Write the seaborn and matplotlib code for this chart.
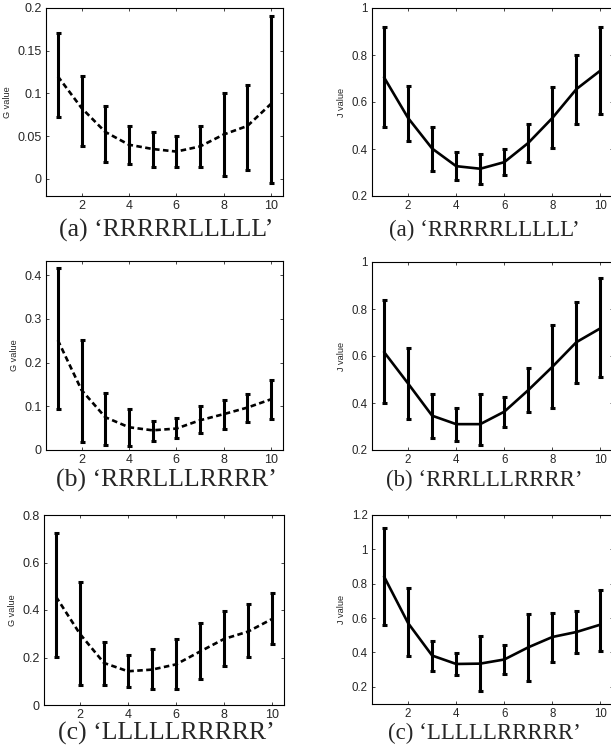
import matplotlib
matplotlib.use("Agg")
import numpy as np
import pandas as pd
import matplotlib.pyplot as plt
import seaborn as sns

# data (mean, lower end, upper end of each error bar)
steps = [1, 2, 3, 4, 5, 6, 7, 8, 9, 10]

g_a_mean = [0.120, 0.083, 0.055, 0.040, 0.035, 0.032, 0.038, 0.052, 0.062, 0.088]
g_a_low = [0.073, 0.038, 0.020, 0.017, 0.014, 0.014, 0.014, 0.003, 0.010, -0.005]
g_a_high = [0.171, 0.121, 0.085, 0.062, 0.055, 0.050, 0.062, 0.100, 0.110, 0.191]

j_a_mean = [0.705, 0.532, 0.402, 0.327, 0.316, 0.344, 0.426, 0.532, 0.655, 0.734]
j_a_low = [0.493, 0.433, 0.306, 0.266, 0.252, 0.288, 0.344, 0.405, 0.508, 0.551]
j_a_high = [0.918, 0.669, 0.493, 0.387, 0.380, 0.402, 0.508, 0.664, 0.798, 0.918]

g_b_mean = [0.251, 0.137, 0.075, 0.052, 0.045, 0.049, 0.068, 0.082, 0.097, 0.116]
g_b_low = [0.093, 0.019, 0.011, 0.010, 0.021, 0.027, 0.040, 0.047, 0.065, 0.072]
g_b_high = [0.417, 0.251, 0.131, 0.093, 0.067, 0.074, 0.101, 0.114, 0.128, 0.160]

j_b_mean = [0.617, 0.483, 0.346, 0.310, 0.310, 0.363, 0.455, 0.554, 0.659, 0.718]
j_b_low = [0.399, 0.331, 0.251, 0.239, 0.223, 0.300, 0.361, 0.377, 0.483, 0.511]
j_b_high = [0.838, 0.632, 0.438, 0.377, 0.438, 0.427, 0.551, 0.730, 0.831, 0.931]

g_c_mean = [0.456, 0.299, 0.177, 0.142, 0.149, 0.171, 0.225, 0.278, 0.309, 0.362]
g_c_low = [0.202, 0.086, 0.086, 0.077, 0.067, 0.067, 0.111, 0.164, 0.202, 0.257]
g_c_high = [0.723, 0.518, 0.264, 0.211, 0.234, 0.278, 0.345, 0.397, 0.424, 0.470]

j_c_mean = [0.842, 0.571, 0.382, 0.333, 0.335, 0.359, 0.430, 0.490, 0.519, 0.562]
j_c_low = [0.558, 0.378, 0.291, 0.266, 0.175, 0.275, 0.233, 0.343, 0.397, 0.410]
j_c_high = [1.123, 0.774, 0.465, 0.397, 0.498, 0.442, 0.626, 0.629, 0.643, 0.765]

captions = ["(a) \u2018RRRRRLLLLL\u2019", "(b) \u2018RRRLLLRRRR\u2019", "(c) \u2018LLLLLRRRRR\u2019"]

g_ticks = [[0, 0.05, 0.1, 0.15, 0.2], [0, 0.1, 0.2, 0.3, 0.4], [0, 0.2, 0.4, 0.6, 0.8]]
j_ticks = [[0.2, 0.4, 0.6, 0.8, 1], [0.2, 0.4, 0.6, 0.8, 1], [0.2, 0.4, 0.6, 0.8, 1, 1.2]]
g_lims = [(-0.02, 0.2), (0, 0.432), (0, 0.8)]
j_lims = [(0.2, 1), (0.2, 1), (0.1, 1.2)]

sns.set_style("ticks")
plt.rcParams["font.family"] = ["Liberation Sans", "DejaVu Sans"]

W, H = 611, 753
fig = plt.figure(figsize=(W / 100, H / 100), dpi=100)


def add_ax(l, t, r, b):
    return fig.add_axes([l / W, 1 - b / H, (r - l) / W, (b - t) / H])


def draw(ax, mean, low, high, ylim, yticks, ylabel, ls, tick_fs):
    df = pd.DataFrame({"step": steps, "value": mean})
    sns.lineplot(data=df, x="step", y="value", ax=ax, color="black",
                 lw=1.9, linestyle=ls)
    mean = np.array(mean)
    yerr = [mean - np.array(low), np.array(high) - mean]
    ax.errorbar(steps, mean, yerr=yerr, fmt="none", ecolor="black",
                elinewidth=2.2, capsize=1.8, capthick=2.2)
    ax.set_xlim(0.5, 10.5)
    ax.set_ylim(*ylim)
    ax.set_xticks([2, 4, 6, 8, 10])
    ax.set_yticks(yticks)
    ax.set_yticklabels(["%g" % v for v in yticks])
    ax.set_xlabel("")
    ax.set_ylabel(ylabel, fontsize=6.6, labelpad=4)
    ax.tick_params(direction="in", top=True, right=True, length=2.5,
                   width=0.6, labelsize=tick_fs, pad=3)
    for s in ax.spines.values():
        s.set_linewidth(0.8)
        s.set_color("black")


# pixel boxes (left, top, right, bottom)
left_boxes = [(46, 8, 283, 196), (46, 261, 283, 450), (44, 515, 284, 705)]
right_boxes = [(372, 8, 612.5, 196), (372, 262, 612.5, 450), (372, 515, 612.5, 704)]
caption_y = [230, 480, 733]

g_data = [(g_a_mean, g_a_low, g_a_high), (g_b_mean, g_b_low, g_b_high), (g_c_mean, g_c_low, g_c_high)]
j_data = [(j_a_mean, j_a_low, j_a_high), (j_b_mean, j_b_low, j_b_high), (j_c_mean, j_c_low, j_c_high)]

for i in range(3):
    axl = add_ax(*left_boxes[i])
    draw(axl, *g_data[i], g_lims[i], g_ticks[i], "G value", (0, (2.1, 1.3)), 9)
    axr = add_ax(*right_boxes[i])
    draw(axr, *j_data[i], j_lims[i], j_ticks[i], "J value", "-", 8.3)

    fig.text(166 / W, 1 - caption_y[i] / H, captions[i], ha="center", va="center",
             family=["Liberation Serif", "DejaVu Serif"], fontsize=18.5)
    fig.text(484 / W, 1 - caption_y[i] / H, captions[i], ha="center", va="center",
             family=["Liberation Serif", "DejaVu Serif"], fontsize=16.5)

fig.savefig("out.png", dpi=100)
